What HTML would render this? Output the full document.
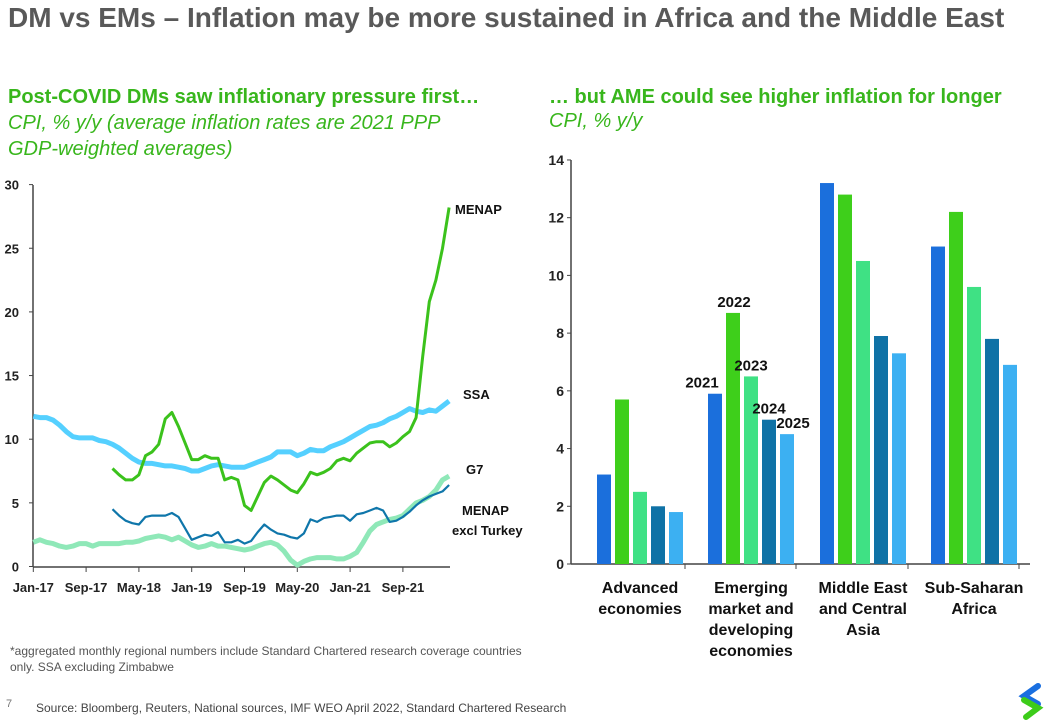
<!DOCTYPE html>
<html><head><meta charset="utf-8"><style>
body{margin:0;width:1048px;height:720px;background:#fff;font-family:"Liberation Sans",Arial,sans-serif;overflow:hidden;position:relative}
.t{position:absolute;white-space:nowrap}
</style></head><body>
<div class="t" style="left:8px;top:2px;font-size:28px;font-weight:bold;color:#595959">DM vs EMs – Inflation may be more sustained in Africa and the Middle East</div>
<div class="t" style="left:8px;top:86px;font-size:20px;font-weight:bold;color:#38b61c">Post-COVID DMs saw inflationary pressure first…</div>
<div class="t" style="left:8px;top:110px;font-size:20px;font-style:italic;color:#38b61c;line-height:26px">CPI, % y/y (average inflation rates are 2021 PPP<br>GDP-weighted averages)</div>
<div class="t" style="left:549px;top:86px;font-size:20px;font-weight:bold;color:#38b61c">… but AME could see higher inflation for longer</div>
<div class="t" style="left:549px;top:110px;font-size:20px;font-style:italic;color:#38b61c">CPI, % y/y</div>
<div class="t" style="left:10px;top:643px;font-size:12px;color:#555;line-height:16px">*aggregated monthly regional numbers include Standard Chartered research coverage countries<br>only. SSA excluding Zimbabwe</div>
<div class="t" style="left:6px;top:698px;font-size:11px;color:#777">7</div>
<div class="t" style="left:36px;top:701px;font-size:12px;color:#444">Source: Bloomberg, Reuters, National sources, IMF WEO April 2022, Standard Chartered Research</div>
<svg style="position:absolute;left:1016px;top:680px" width="30" height="40" viewBox="0 0 30 40">
<path d="M22 6 L8 16 L22 24" stroke="#1a6fe0" stroke-width="6" fill="none" stroke-linecap="round"/>
<path d="M8 20 L22 28 L10 37" stroke="#3dcc1a" stroke-width="6" fill="none" stroke-linecap="round"/>
</svg>
<svg id="left" style="position:absolute;left:0;top:0" width="540" height="620"></svg>
<svg id="right" style="position:absolute;left:520px;top:0" width="528" height="680"></svg>
<script>
const months=['Jan-17','Sep-17','May-18','Jan-19','Sep-19','May-20','Jan-21','Sep-21'];
const ssa=[11.8,11.7,11.7,11.5,11.1,10.6,10.2,10.1,10.1,10.1,9.9,9.8,9.6,9.3,8.9,8.5,8.2,8.1,8.1,8.0,7.9,7.9,7.8,7.7,7.5,7.5,7.7,7.9,8.0,7.9,7.8,7.8,7.8,8.0,8.2,8.4,8.6,9.0,9.0,9.0,8.7,8.9,9.2,9.1,9.1,9.4,9.6,9.8,10.1,10.4,10.7,11.0,11.1,11.3,11.6,11.8,12.1,12.4,12.2,12.1,12.3,12.2,12.6,13.0];
const g7=[1.9,2.1,1.9,1.8,1.6,1.5,1.6,1.8,1.8,1.6,1.8,1.8,1.8,1.8,1.9,1.9,2.0,2.2,2.3,2.4,2.3,2.1,2.3,2.0,1.7,1.5,1.6,1.8,1.6,1.6,1.5,1.4,1.3,1.4,1.6,1.8,1.9,1.7,1.2,0.5,0.1,0.4,0.6,0.7,0.7,0.7,0.6,0.6,0.8,1.1,1.9,2.8,3.3,3.5,3.7,3.8,4.0,4.5,5.0,5.2,5.5,6.0,6.8,7.1];
const menapStart=12;
const menap=[7.7,7.2,6.8,6.8,7.2,8.7,9.0,9.6,11.6,12.1,11.0,9.7,8.4,8.4,8.7,8.5,8.5,6.8,7.0,6.8,4.8,4.4,5.5,6.6,7.1,6.8,6.4,6.0,5.8,6.5,7.4,7.2,7.4,7.7,8.3,8.5,8.3,8.9,9.3,9.7,9.8,9.8,9.4,9.7,10.2,10.6,11.7,16.5,20.8,22.5,25.0,28.2];
const menapx=[4.5,4.0,3.6,3.4,3.3,3.9,4.0,4.0,4.0,4.2,3.9,3.0,2.1,2.3,2.5,2.4,2.7,1.9,1.9,2.1,1.8,2.0,2.7,3.3,2.9,2.6,2.5,2.3,2.2,2.6,3.7,3.5,3.8,3.9,4.0,4.0,3.6,4.1,4.2,4.4,4.6,4.4,3.5,3.6,3.9,4.3,4.8,5.2,5.5,5.7,5.9,6.4];
const yTicksL=[0,5,10,15,20,25,30];

const cats=['Advanced economies','Emerging market and developing economies','Middle East and Central Asia','Sub-Saharan Africa'];
const catLines=[['Advanced','economies'],['Emerging','market and','developing','economies'],['Middle East','and Central','Asia'],['Sub-Saharan','Africa']];
const years=['2021','2022','2023','2024','2025'];
const v2021=[3.1,5.9,13.2,11.0];
const v2022=[5.7,8.7,12.8,12.2];
const v2023=[2.5,6.5,10.5,9.6];
const v2024=[2.0,5.0,7.9,7.8];
const v2025=[1.8,4.5,7.3,6.9];
const yTicksR=[0,2,4,6,8,10,12,14];

const NS='http://www.w3.org/2000/svg';
function mk(p,tag,a,txt){const e=document.createElementNS(NS,tag);for(const k in a)e.setAttribute(k,a[k]);if(txt!==undefined)e.textContent=txt;p.appendChild(e);return e;}
// LEFT
const L=document.getElementById('left');
const lx=i=>33.3+i*6.6, ly=v=>566.5-v*12.73;
let e=mk(L,'line',{x1:33,y1:185,x2:33,y2:567,stroke:'#444','stroke-width':1.5});

e=mk(L,'line',{x1:33,y1:567,x2:450,y2:567,stroke:'#444','stroke-width':1.5});

yTicksL.forEach(v=>{
 mk(L,'line',{x1:29,y1:ly(v),x2:33,y2:ly(v),stroke:'#444'});
 e=mk(L,'text',{x:19,y:ly(v)+5,'text-anchor':'end','font-size':13,'font-weight':'bold',fill:'#222'},v);
 
});
months.forEach((m,k)=>{
 mk(L,'line',{x1:lx(k*8),y1:567,x2:lx(k*8),y2:572,stroke:'#444'});
 e=mk(L,'text',{x:lx(k*8),y:592,'text-anchor':'middle','font-size':13,'font-weight':'bold',fill:'#222'},m);
 
});
function line(arr,start,color,w,name){
 const d=arr.map((v,i)=>(i?'L':'M')+lx(i+start).toFixed(1)+' '+ly(v).toFixed(1)).join(' ');
 const p=mk(L,'path',{d:d,fill:'none',stroke:color,'stroke-width':w,'stroke-linejoin':'round'});
 
}
line(g7,0,'#8fe8b8',5,'g7-line');
line(ssa,0,'#55d0ff',5,'ssa-line');
line(menapx,menapStart,'#0f76aa',2.2,'menap-excl-turkey-line');
line(menap,menapStart,'#3bc21c',3,'menap-line');
[['MENAP',455,214],['SSA',463,399],['G7',466,474],['MENAP',462,515],['excl Turkey',452,535]].forEach(a=>{
 e=mk(L,'text',{x:a[1],y:a[2],'font-size':13,'font-weight':'bold',fill:'#111'},a[0]);
 
});
// RIGHT (offset 520)
const R=document.getElementById('right');
const ry=v=>564-v*28.86;
const gx=[77,188,300,411];
const cols=['#1b6fdc','#3ecf1b','#3fe184','#0f72a6','#3cb0f2'];
const series=[v2021,v2022,v2023,v2024,v2025];
e=mk(R,'line',{x1:51,y1:160,x2:51,y2:564,stroke:'#444','stroke-width':1.5});

e=mk(R,'line',{x1:51,y1:564,x2:510,y2:564,stroke:'#444','stroke-width':1.5});

yTicksR.forEach(v=>{
 mk(R,'line',{x1:47,y1:ry(v),x2:51,y2:ry(v),stroke:'#444'});
 e=mk(R,'text',{x:44,y:ry(v)+5,'text-anchor':'end','font-size':14,'font-weight':'bold',fill:'#222'},v);
 
});
[165,276,388,499].forEach(x=>mk(R,'line',{x1:x,y1:564,x2:x,y2:569,stroke:'#444'}));
series.forEach((s,si)=>s.forEach((v,ci)=>{
 const b=mk(R,'rect',{x:gx[ci]+si*18,y:ry(v),width:14,height:564-ry(v),fill:cols[si]});
 
}));
years.forEach((y,si)=>{
 const v=series[si][1];
 e=mk(R,'text',{x:gx[1]+si*18+7+(si==0?-13:si==1?1:si==4?6:0),y:ry(v)-6,'text-anchor':'middle','font-size':15,'font-weight':'bold',fill:'#111'},y);
 
});
catLines.forEach((ls,ci)=>ls.forEach((t,j)=>{
 e=mk(R,'text',{x:gx[ci]+43,y:593+j*21,'text-anchor':'middle','font-size':16,'font-weight':'bold',fill:'#111'},t);
 
}));
</script>
</body></html>
